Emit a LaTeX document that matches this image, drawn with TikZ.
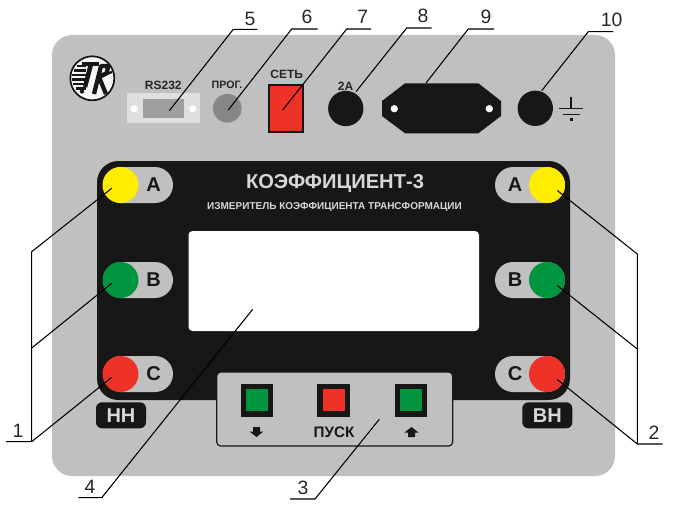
\documentclass[tikz,border=0pt]{standalone}
\usepackage{fontspec}
\setmainfont{Liberation Sans}
\usetikzlibrary{shapes.geometric}
\definecolor{panelgray}{RGB}{192,192,192}
\definecolor{panelblack}{RGB}{23,23,23}
\definecolor{lampyellow}{RGB}{255,237,0}
\definecolor{lampgreen}{RGB}{0,150,64}
\definecolor{lampred}{RGB}{238,50,40}
\definecolor{paletext}{RGB}{215,215,215}
\tikzset{
  every node/.append style={inner sep=0pt, outer sep=0pt},
  % поверхности
  pill/.style={fill=panelgray, rounded corners=13.5pt, minimum width=52.5pt, minimum height=27pt},
  lamp/.style={circle, minimum size=27pt},
  jack/.style={circle, fill=panelblack, minimum size=26.5pt},
  hole/.style={circle, fill=white, minimum size=5.5pt},
  badge/.style={fill=panelblack, rounded corners=4.5pt, minimum width=37.5pt, minimum height=19.5pt,
    text=paletext, font=\fontsize{15}{17}\selectfont\bfseries},
  btn/.style={draw=panelblack, line width=4pt, minimum size=20.5pt},
  % надписи
  pilltext/.style={font=\fontsize{15}{17}\selectfont\bfseries, text=panelblack},
  smalltext/.style={font=\fontsize{9}{10}\selectfont\bfseries, text=black!85},
  numlab/.style={font=\fontsize{14.5}{17}\selectfont, text=black!85},
  % выноски
  leader/.style={draw=black, line width=0.8pt},
}
\begin{document}
\begin{tikzpicture}[x=0.75pt, y=-0.75pt]
    \useasboundingbox (0,0) rectangle (674,517);

    % Корпус
    \fill[panelgray, rounded corners=15pt] (52,35) rectangle (615,476);
    \fill[panelblack, rounded corners=16pt] (97,161) rectangle (570,400);
    \fill[white, rounded corners=3pt] (188.5,231) rectangle (479,331);

    % Надпись
    \node[font=\fontsize{15.1}{17}\selectfont\bfseries, text=paletext] (title) at (335,183) {КОЭФФИЦИЕНТ-3};
    \node[font=\fontsize{7.5}{9}\selectfont\bfseries, text=paletext] (subtitle) at (334.5,207) {ИЗМЕРИТЕЛЬ КОЭФФИЦИЕНТА ТРАНСФОРМАЦИИ};

    % Логотип
    \fill[white!85!panelgray] (92.3,78.3) circle (22);
    \draw[panelblack, line width=1.3pt] (92.3,78.3) circle (22);
    \foreach \yy/\xa in {66/77,70.5/74,75/72,79.5/72,84/73,88.5/76}
      \draw[panelblack, line width=1.7pt] (\xa,\yy) -- (86,\yy);
    \draw[panelblack, line width=2.6pt] (82,64) -- (99,64);
    \draw[panelblack, line width=3.4pt] (91,64) -- (85,87);
    \fill[panelblack] (82,91.5) circle (2.2);
    \draw[panelblack, line width=3.2pt, line join=round] (94,94) -- (101,66) -- (108,66) -- (107,73) -- (99,77) -- (106,94);
    \draw[panelblack, line width=1.8pt] (104,75) -- (112,72);

    % Верхний ряд
    \node[smalltext] (rs) at (163.3,85) {RS232};
    \fill[white!50!panelgray] (127.3,93.3) rectangle (200,123);
    \fill[black!38] (143.3,98.7) rectangle (184,117.7);
    \node[hole] (rsholeL) at (134,108.7) {};
    \node[hole] (rsholeR) at (192.7,108.7) {};
    \node[smalltext, font=\fontsize{8}{10}\selectfont\bfseries] (prog) at (227,85) {ПРОГ.};
    \node[circle, fill=black!47, minimum size=21.5pt] (progbtn) at (227.3,108.3) {};
    \node[smalltext] (net) at (286.7,74) {СЕТЬ};
    \fill[lampred, draw=panelblack, line width=1.6pt] (269.3,85) rectangle (303,132.3);
    \node[smalltext] (fuselab) at (345.5,86) {2А};
    \node[jack] (fuse) at (345.8,108.5) {};
    \fill[panelblack] (405,83.3) -- (478.3,83.3) -- (501,101) -- (501,116) -- (478.3,133.3)
      -- (405,133.3) -- (382,116) -- (382,101) -- cycle;
    \node[hole] (sockL) at (394.3,108.7) {};
    \node[hole] (sockR) at (489.3,108.7) {};
    \node[jack] (earth) at (535.3,108.3) {};

    % Земля
    \draw[panelblack, line width=0.9pt] (571,96.7) -- (571,108.3);
    \draw[panelblack, line width=0.9pt] (559,108.3) -- (583.3,108.3);
    \draw[panelblack, line width=0.9pt] (562.7,114.3) -- (580,114.3);
    \fill[panelblack] (569.5,117.5) rectangle (572.5,120.5);

    % Клеммы НН и ВН
    \foreach \ph/\lt/\yy/\col in {A/А/185/lampyellow, B/В/280/lampgreen, C/С/374/lampred} {
      \node[pill] (pillL\ph) at (138,\yy) {};
      \node[lamp, fill=\col] (lampL\ph) at (120.5,\yy) {};
      \node[pilltext] (textL\ph) at (153.5,\yy) {\lt};
      \coordinate (tipL\ph) at (111.7,\yy+3.3);
      \node[pill] (pillR\ph) at (530,\yy) {};
      \node[lamp, fill=\col] (lampR\ph) at (547,\yy) {};
      \node[pilltext] (textR\ph) at (515,\yy) {\lt};
      \coordinate (tipR\ph) at (557.3,\yy+5.5);
    }
    \node[badge] (lowside) at (121,415.3) {НН};
    \node[badge] (highside) at (547.3,415.3) {ВН};

    % Кнопки
    \fill[panelgray, draw=panelblack, line width=0.9pt, rounded corners=3pt] (216.7,372) rectangle (452.7,446);
    \node[btn, fill=lampgreen] (btndown) at (257,400.3) {};
    \node[btn, fill=lampred] (btnstart) at (333.7,400.3) {};
    \node[btn, fill=lampgreen] (btnup) at (411,400.3) {};
    \node[font=\fontsize{11.4}{13}\selectfont\bfseries, text=panelblack] (start) at (334,432.5) {ПУСК};
    \fill[panelblack] (253,427) -- (260,427) -- (260,431.5) -- (263.5,431.5) -- (256.5,437)
      -- (249.5,431.5) -- (253,431.5) -- cycle;
    \fill[panelblack] (408,437) -- (415,437) -- (415,432.5) -- (418.5,432.5) -- (411.5,427)
      -- (404.5,432.5) -- (408,432.5) -- cycle;

    % Выноски
    \coordinate (jointLa) at (31.7,251.7);
    \coordinate (jointLb) at (31.7,348);
    \coordinate (jointLc) at (31.7,441.7);
    \coordinate (endL) at (6,441.7);
    \draw[leader] (tipLA) -- (jointLa) -- (jointLc) -- (endL);
    \draw[leader] (tipLB) -- (jointLb);
    \draw[leader] (tipLC) -- (jointLc);
    \coordinate (jointRa) at (637.3,254);
    \coordinate (jointRb) at (637.3,349);
    \coordinate (jointRc) at (637.3,444);
    \coordinate (endR) at (662.7,444);
    \draw[leader] (tipRA) -- (jointRa) -- (jointRc) -- (endR);
    \draw[leader] (tipRB) -- (jointRb);
    \draw[leader] (tipRC) -- (jointRc);

    \foreach \name/\xa/\ya/\xb/\yb/\xc in {
        three/379.3/419.3/315/499/290,
        four/252.7/309.3/101.7/497.7/78.3,
        five/169.3/110.7/233.3/29.3/257.3,
        six/228.3/110/291.7/29/317.7,
        seven/282.7/110/346.7/29/371,
        eight/356/91.7/406.7/28/431.7,
        nine/426/83/468.3/29/494,
        ten/541.7/90.7/588.3/31.7/613.3} {
      \coordinate (tip\name) at (\xa,\ya);
      \coordinate (bend\name) at (\xb,\yb);
      \coordinate (end\name) at (\xc,\yb);
      \draw[leader] (tip\name) -- (bend\name) -- (end\name);
    }

    % Номера
    \node[numlab] (num1) at (18,431) {1};
    \node[numlab] (num2) at (654,433) {2};
    \node[numlab] (num3) at (303,488) {3};
    \node[numlab] (num4) at (90,487) {4};
    \node[numlab] (num5) at (250,19) {5};
    \node[numlab] (num6) at (307,17) {6};
    \node[numlab] (num7) at (362.7,17) {7};
    \node[numlab] (num8) at (423,16) {8};
    \node[numlab] (num9) at (486,17) {9};
    \node[numlab] (num10) at (611.7,20) {10};
\end{tikzpicture}
\end{document}
